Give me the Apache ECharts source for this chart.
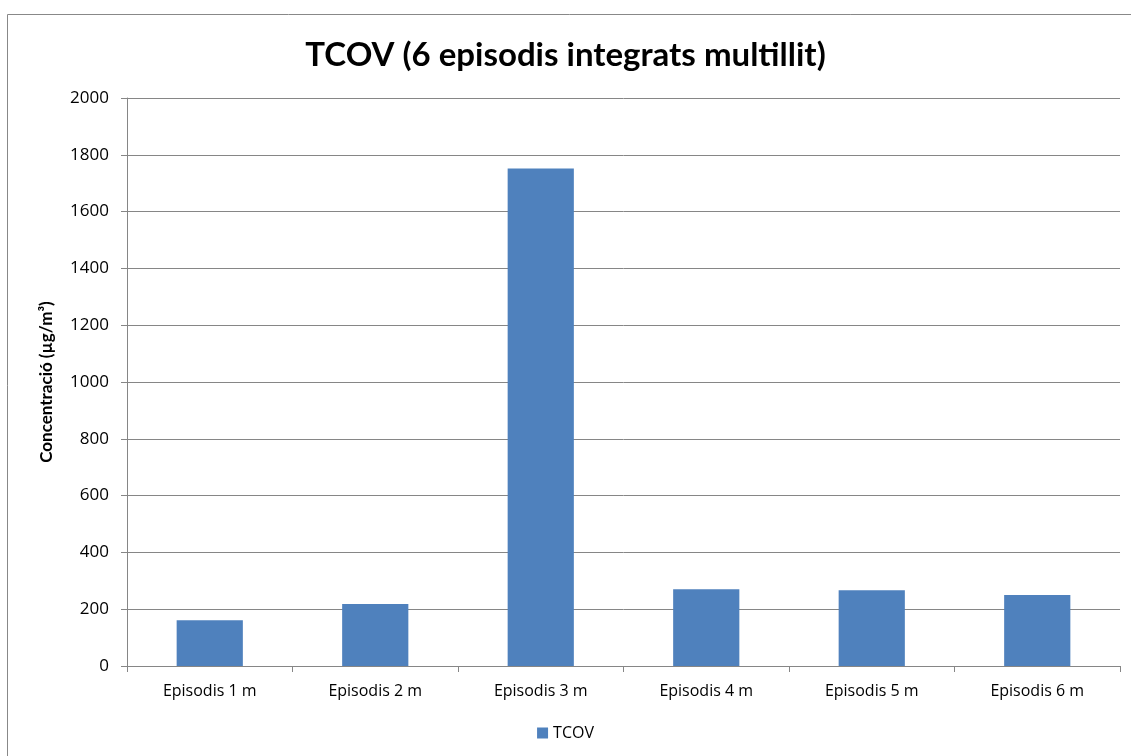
<!DOCTYPE html>
<html>
<head>
<meta charset="utf-8">
<script src="https://cdn.jsdelivr.net/npm/echarts@6/dist/echarts.min.js"></script>
<style>
  html, body { margin: 0; padding: 0; background: #fff; }
  #chart { width: 1131px; height: 756px; }
</style>
</head>
<body>
<div id="chart"></div>
<script>
var categories = ['Episodis 1 m', 'Episodis 2 m', 'Episodis 3 m', 'Episodis 4 m', 'Episodis 5 m', 'Episodis 6 m']
var tcovValues = [161, 218, 1752, 270, 267, 250]

var chart = echarts.init(document.getElementById('chart'))
chart.setOption({
  textStyle: { fontFamily: 'Open Sans' },
  animation: false,
  graphic: [{
    type: 'rect',
    left: 5,
    top: 12,
    shape: { width: 1140, height: 760 },
    style: { fill: 'none', stroke: '#888', lineWidth: 1 },
    silent: true
  }],
  title: {
    text: 'TCOV (6 episodis integrats multillit)',
    left: 'center',
    top: 34,
    textStyle: { fontSize: 33, fontWeight: 'bold', color: '#000', fontFamily: 'Lato' }
  },
  grid: {
    left: 127,
    right: 11,
    top: 98,
    bottom: 90
  },
  legend: {
    data: ['TCOV'],
    bottom: 10,
    left: 'center',
    icon: 'rect',
    itemWidth: 11,
    itemHeight: 11,
    itemGap: 4,
    textStyle: { fontSize: 16, color: '#000' }
  },
  xAxis: {
    type: 'category',
    data: categories,
    axisLine: { lineStyle: { color: '#868686' } },
    axisTick: { show: true, alignWithLabel: false, length: 6, lineStyle: { color: '#868686' } },
    axisLabel: { fontSize: 16, color: '#000', margin: 17 }
  },
  yAxis: {
    type: 'value',
    min: 0,
    max: 2000,
    interval: 200,
    name: 'Concentració (µg/m³)',
    nameLocation: 'middle',
    nameGap: 72,
    nameRotate: 90,
    nameTextStyle: { fontSize: 17, fontWeight: 'bold', color: '#000', fontFamily: 'Lato' },
    axisLine: { show: true, lineStyle: { color: '#868686' } },
    axisTick: { show: true, length: 6, lineStyle: { color: '#868686' } },
    axisLabel: { fontSize: 17, color: '#000', margin: 18, formatter: function (v) { return String(v) } },
    splitLine: { lineStyle: { color: '#868686' } }
  },
  series: [{
    name: 'TCOV',
    type: 'bar',
    data: tcovValues,
    barCategoryGap: '60%',
    itemStyle: { color: '#4F81BD' }
  }]
})
</script>
</body>
</html>
